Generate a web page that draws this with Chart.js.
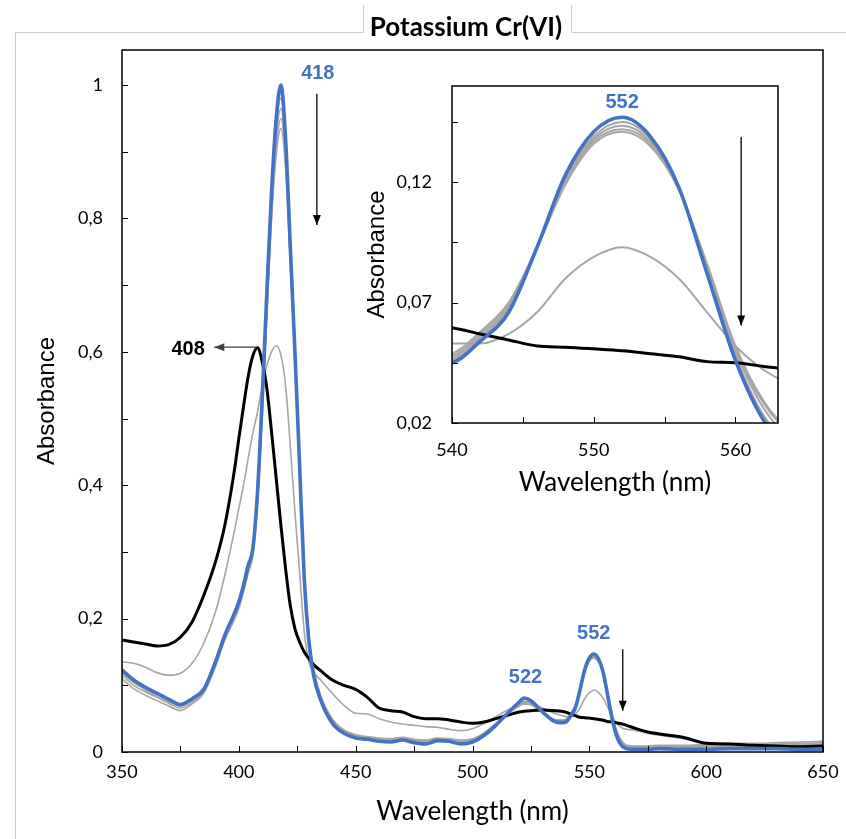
<!DOCTYPE html>
<html><head><meta charset="utf-8">
<script src="https://cdn.jsdelivr.net/npm/chart.js@4.4.1/dist/chart.umd.min.js"></script>
<style>
html,body{margin:0;padding:0;background:#fff;}
#wrap{position:relative;width:846px;height:839px;overflow:hidden;}
#main{position:absolute;left:0;top:0;}
#inset{position:absolute;left:360px;top:80px;}
</style></head><body>
<div id="wrap">
<canvas id="main" width="846" height="839" style="width:846px;height:839px"></canvas>
<canvas id="inset" width="430" height="420" style="width:430px;height:420px"></canvas>
</div>
<script>
// ---------- DATA ----------
const wavelength = [350,355,360,365,370,375,380,385,390,394,398,400,402,404,406,408,410,412,414,416,418,420,422,424,426,428,430,432,435,440,445,450,455,460,465,470,475,480,485,490,495,500,505,510,515,520,522,525,530,535,538,540,542,544,546,548,550,552,554,556,558,560,562,564,566,570,575,580,590,600,610,620,630,640,650];

// final spectrum (blue)
const absFinal = [0.123,0.108,0.097,0.088,0.079,0.071,0.080,0.094,0.135,0.175,0.207,0.225,0.250,0.280,0.305,0.390,0.530,0.690,0.840,0.950,1.000,0.920,0.760,0.600,0.430,0.260,0.165,0.115,0.078,0.043,0.028,0.021,0.019,0.016,0.015,0.018,0.014,0.012,0.017,0.016,0.012,0.015,0.025,0.040,0.058,0.075,0.081,0.077,0.060,0.046,0.044,0.045,0.054,0.066,0.093,0.123,0.141,0.147,0.139,0.118,0.082,0.046,0.021,0.009,0.005,0.004,0.004,0.005,0.004,0.004,0.005,0.005,0.005,0.004,0.004];

// initial spectrum (black)
const absInitial = [0.168,0.165,0.162,0.159,0.161,0.172,0.195,0.235,0.285,0.340,0.420,0.470,0.518,0.563,0.594,0.606,0.585,0.545,0.480,0.410,0.340,0.275,0.220,0.185,0.165,0.150,0.140,0.131,0.122,0.108,0.100,0.094,0.082,0.066,0.062,0.060,0.053,0.050,0.050,0.048,0.045,0.043,0.045,0.050,0.055,0.060,0.061,0.062,0.063,0.062,0.061,0.0596,0.057,0.0545,0.052,0.0515,0.0508,0.050,0.0488,0.0475,0.0455,0.045,0.0435,0.042,0.040,0.035,0.030,0.027,0.022,0.013,0.012,0.010,0.009,0.008,0.009];

// intermediate spectrum (grey)
const absMid = [0.135,0.133,0.127,0.119,0.115,0.118,0.133,0.163,0.210,0.265,0.330,0.365,0.400,0.440,0.478,0.510,0.548,0.580,0.600,0.609,0.595,0.550,0.460,0.360,0.270,0.180,0.135,0.120,0.108,0.088,0.070,0.058,0.057,0.050,0.045,0.042,0.040,0.038,0.037,0.034,0.032,0.035,0.043,0.053,0.063,0.070,0.072,0.072,0.066,0.058,0.055,0.053,0.053,0.057,0.066,0.080,0.089,0.093,0.089,0.080,0.066,0.052,0.042,0.036,0.034,0.032,0.028,0.025,0.020,0.014,0.013,0.013,0.014,0.015,0.016];

// later spectra (grey cluster)
const absT2 = [0.120,0.106,0.095,0.086,0.077,0.069,0.079,0.093,0.133,0.172,0.204,0.222,0.247,0.277,0.305,0.385,0.520,0.680,0.825,0.935,0.980,0.905,0.750,0.595,0.430,0.262,0.168,0.118,0.080,0.045,0.030,0.022,0.020,0.018,0.017,0.019,0.015,0.014,0.018,0.017,0.014,0.016,0.026,0.041,0.058,0.074,0.079,0.076,0.060,0.047,0.045,0.046,0.055,0.067,0.093,0.122,0.139,0.145,0.138,0.118,0.083,0.048,0.023,0.011,0.007,0.006,0.006,0.006,0.006,0.007,0.007,0.006,0.007,0.008,0.009];
const absT3 = [0.115,0.100,0.090,0.082,0.073,0.066,0.075,0.090,0.130,0.170,0.200,0.218,0.243,0.272,0.300,0.380,0.515,0.670,0.815,0.920,0.965,0.895,0.745,0.592,0.430,0.265,0.170,0.120,0.082,0.047,0.031,0.024,0.021,0.019,0.018,0.020,0.017,0.016,0.019,0.018,0.016,0.018,0.027,0.042,0.058,0.072,0.076,0.074,0.060,0.048,0.046,0.047,0.056,0.068,0.093,0.121,0.138,0.1435,0.137,0.118,0.084,0.050,0.026,0.013,0.008,0.007,0.007,0.008,0.008,0.009,0.008,0.008,0.009,0.010,0.011];
const absT4 = [0.110,0.095,0.085,0.077,0.069,0.062,0.072,0.088,0.128,0.168,0.198,0.215,0.240,0.268,0.295,0.375,0.510,0.660,0.805,0.905,0.950,0.885,0.740,0.590,0.430,0.268,0.172,0.122,0.083,0.048,0.032,0.025,0.022,0.020,0.019,0.021,0.018,0.017,0.020,0.019,0.017,0.019,0.028,0.042,0.057,0.070,0.074,0.072,0.059,0.048,0.047,0.048,0.057,0.069,0.093,0.120,0.137,0.142,0.136,0.117,0.085,0.051,0.028,0.015,0.009,0.008,0.008,0.009,0.009,0.010,0.009,0.010,0.010,0.011,0.012];
const absT5 = [0.118,0.104,0.093,0.083,0.075,0.070,0.078,0.092,0.132,0.170,0.200,0.218,0.242,0.270,0.298,0.375,0.505,0.655,0.800,0.895,0.935,0.875,0.735,0.588,0.432,0.270,0.175,0.125,0.085,0.050,0.033,0.026,0.023,0.021,0.020,0.022,0.019,0.018,0.021,0.020,0.018,0.020,0.029,0.043,0.057,0.069,0.072,0.071,0.059,0.049,0.048,0.049,0.058,0.070,0.093,0.119,0.136,0.141,0.135,0.117,0.086,0.052,0.029,0.016,0.010,0.009,0.009,0.010,0.010,0.011,0.010,0.011,0.012,0.013,0.014];

// tick values and labels
const xTicksMain = [350,375,400,425,450,475,500,525,550,575,600,625,650];
const xLabelsMain = ['350','','400','','450','','500','','550','','600','','650'];
const yTicksMain = [0,0.1,0.2,0.3,0.4,0.5,0.6,0.7,0.8,0.9,1.0];
const yLabelsMain = ['0','','0,2','','0,4','','0,6','','0,8','','1'];
const xTicksInset = [540,545,550,555,560];
const xLabelsInset = ['540','','550','','560'];
const yTicksInset = [0.02,0.045,0.07,0.095,0.12,0.145];
const yLabelsInset = ['0,02','','0,07','','0,12',''];

// ---------- STYLE ----------
const BLUE = '#4472C4';
const GREY = '#a6a6a6';
const LATO = 'Lato, "Open Sans", sans-serif';
const ARIAL = '"Liberation Sans", Arial, sans-serif';

function pts(arr){ return wavelength.map((w,i)=>({x:w, y:arr[i]})); }

function datasets(scale){
  const list = [
    {arr:absFinal, color:BLUE, w:3.6},
    {arr:absInitial, color:'#000', w:3},
    {arr:absMid, color:GREY, w:1.6*scale},
    {arr:absT2, color:GREY, w:1.6*scale},
    {arr:absT3, color:GREY, w:1.6*scale},
    {arr:absT4, color:GREY, w:1.6*scale},
    {arr:absT5, color:GREY, w:1.6*scale}
  ];
  return list.map(s=>({data:pts(s.arr), borderColor:s.color, borderWidth:s.w, pointRadius:0, fill:false, cubicInterpolationMode:'monotone'}));
}

function arrowHead(ctx, x1, y1, x2, y2, len, half){
  const ang = Math.atan2(y2-y1, x2-x1);
  ctx.beginPath();
  ctx.moveTo(x2, y2);
  ctx.lineTo(x2 - len*Math.cos(ang) + half*Math.sin(ang), y2 - len*Math.sin(ang) - half*Math.cos(ang));
  ctx.lineTo(x2 - len*Math.cos(ang) - half*Math.sin(ang), y2 - len*Math.sin(ang) + half*Math.cos(ang));
  ctx.closePath();
  ctx.fill();
}

const decoPlugin = {
  id: 'deco',
  beforeDraw(chart, args, o){
    const ctx = chart.ctx, a = chart.chartArea;
    ctx.save();
    if (o.whiteArea){ ctx.fillStyle='#fff'; ctx.fillRect(a.left, a.top, a.right-a.left, a.bottom-a.top); }
    if (o.outer){
      ctx.strokeStyle='#cccccc'; ctx.lineWidth=1;
      ctx.beginPath();
      ctx.moveTo(15.5, 839); ctx.lineTo(15.5, 32.5); ctx.lineTo(363.5, 32.5); ctx.lineTo(363.5, 5);
      ctx.moveTo(571.5, 5); ctx.lineTo(571.5, 32.5); ctx.lineTo(846, 32.5);
      ctx.stroke();
      ctx.fillStyle='#000'; ctx.font='bold 26px '+LATO; ctx.textAlign='center'; ctx.textBaseline='alphabetic';
      ctx.fillText(o.title, 466, 36);
    }
    ctx.restore();
  },
  afterDraw(chart, args, o){
    const ctx = chart.ctx, a = chart.chartArea, xs = chart.scales.x, ys = chart.scales.y;
    ctx.save();
    // inward tick marks
    ctx.strokeStyle='#000'; ctx.lineWidth=1;
    ctx.beginPath();
    xs.ticks.forEach(t=>{ const p=Math.round(xs.getPixelForValue(t.value))+0.5; ctx.moveTo(p, a.bottom); ctx.lineTo(p, a.bottom-o.tickLen); });
    ys.ticks.forEach(t=>{ const p=Math.round(ys.getPixelForValue(t.value))+0.5; ctx.moveTo(a.left, p); ctx.lineTo(a.left+o.tickLen, p); });
    ctx.stroke();
    // frame
    ctx.lineWidth=1.5; ctx.strokeStyle='#000';
    ctx.strokeRect(a.left, a.top, a.right-a.left, a.bottom-a.top);
    // annotations
    (o.notes||[]).forEach(n=>{
      if (n.type==='text'){
        ctx.fillStyle=n.color; ctx.font='bold '+n.size+'px '+ARIAL; ctx.textAlign='center'; ctx.textBaseline='middle';
        ctx.fillText(n.text, xs.getPixelForValue(n.x), ys.getPixelForValue(n.y));
      } else {
        const x1=xs.getPixelForValue(n.x1), y1=ys.getPixelForValue(n.y1), x2=xs.getPixelForValue(n.x2), y2=ys.getPixelForValue(n.y2);
        ctx.strokeStyle=n.color; ctx.fillStyle=n.color; ctx.lineWidth=1.3;
        ctx.beginPath(); ctx.moveTo(x1,y1); ctx.lineTo(x2,y2); ctx.stroke();
        arrowHead(ctx, x1,y1,x2,y2, 10, 4);
      }
    });
    ctx.restore();
  }
};

const mainNotes = [
  {type:'text', text:'418', x:433.8, y:1.018, color:BLUE, size:20},
  {type:'arrow', x1:433.4, y1:0.987, x2:433.4, y2:0.79, color:'#000'},
  {type:'text', text:'408', x:378.3, y:0.603, color:'#000', size:20},
  {type:'arrow', x1:407.5, y1:0.607, x2:389.5, y2:0.607, color:'#404040'},
  {type:'text', text:'522', x:522.7, y:0.111, color:BLUE, size:20},
  {type:'text', text:'552', x:551.9, y:0.177, color:BLUE, size:20},
  {type:'arrow', x1:564.3, y1:0.154, x2:564.3, y2:0.062, color:'#000'}
];
const insetNotes = [
  {type:'text', text:'552', x:552.0, y:0.1533, color:BLUE, size:20},
  {type:'arrow', x1:560.4, y1:0.1388, x2:560.4, y2:0.0605, color:'#000'}
];

function axisOpts(cfg){
  return {
    type:'linear', min:cfg.min, max:cfg.max,
    afterBuildTicks: s=>{ s.ticks = cfg.ticks.map(v=>({value:v})); },
    afterFit: s=>{
      if (cfg.h) s.height = cfg.h;
      if (cfg.w) s.width = cfg.w;
      s.paddingTop = 0; s.paddingBottom = 0; s.paddingLeft = 0; s.paddingRight = 0;
    },
    grid:{display:false, drawTicks:false},
    border:{display:false},
    ticks:{autoSkip:false, maxRotation:0, minRotation:0, padding:cfg.pad, color:'#000', font:{family:LATO, size:18}, callback:(v,i)=>cfg.labels[i]},
    title:{display:true, text:cfg.title, color:'#000', font:{family:cfg.tfam, size:cfg.tsize}, padding:cfg.tpad}
  };
}

new Chart(document.getElementById('main'), {
  type:'line',
  data:{datasets:datasets(1)},
  options:{
    responsive:false, animation:false, devicePixelRatio:1,
    layout:{padding:{top:50, right:23, left:0, bottom:0}},
    plugins:{legend:{display:false}, tooltip:{enabled:false},
      deco:{outer:true, title:'Potassium Cr(VI)', tickLen:6, notes:mainNotes}},
    scales:{
      x: axisOpts({min:350, max:650, ticks:xTicksMain, labels:xLabelsMain, pad:9, h:87, title:'Wavelength (nm)', tfam:LATO, tsize:26, tpad:{top:0,bottom:12}}),
      y: axisOpts({min:0, max:1.0525, ticks:yTicksMain, labels:yLabelsMain, pad:19, w:122, title:'Absorbance', tfam:ARIAL, tsize:24, tpad:{top:33,bottom:0}})
    }
  },
  plugins:[decoPlugin]
});

new Chart(document.getElementById('inset'), {
  type:'line',
  data:{datasets:datasets(1.25)},
  options:{
    responsive:false, animation:false, devicePixelRatio:1,
    layout:{padding:{top:6, right:12, left:0, bottom:0}},
    plugins:{legend:{display:false}, tooltip:{enabled:false},
      deco:{whiteArea:true, tickLen:6, notes:insetNotes}},
    scales:{
      x: axisOpts({min:540, max:563, ticks:xTicksInset, labels:xLabelsInset, pad:16, h:77, title:'Wavelength (nm)', tfam:LATO, tsize:26, tpad:{top:0,bottom:2}}),
      y: axisOpts({min:0.02, max:0.16, ticks:yTicksInset, labels:yLabelsInset, pad:20, w:92, title:'Absorbance', tfam:ARIAL, tsize:24, tpad:{top:3,bottom:0}})
    }
  },
  plugins:[decoPlugin]
});
</script>
</body></html>
